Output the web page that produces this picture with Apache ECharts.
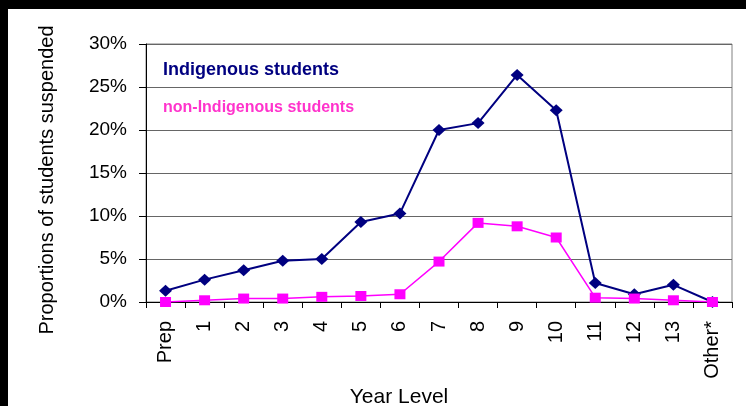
<!DOCTYPE html>
<html>
<head>
<meta charset="utf-8">
<script src="https://cdn.jsdelivr.net/npm/echarts@6/dist/echarts.min.js"></script>
<style>
  html, body { margin: 0; padding: 0; background: #fff; }
  #chart { width: 746px; height: 406px; }
</style>
</head>
<body>
<div id="chart"></div>
<script>
const categories = ['Prep', '1', '2', '3', '4', '5', '6', '7', '8', '9', '10', '11', '12', '13', 'Other*'];
const indigenous = [1.3, 2.6, 3.7, 4.8, 5.0, 9.3, 10.3, 20.0, 20.8, 26.4, 22.3, 2.2, 0.9, 2.0, 0.0];
const nonIndigenous = [0.0, 0.2, 0.4, 0.4, 0.6, 0.7, 0.9, 4.7, 9.2, 8.8, 7.5, 0.5, 0.4, 0.2, 0.0];
const yTicks = [0, 5, 10, 15, 20, 25, 30];

const FONT = '"Liberation Sans", Arial, sans-serif';
const chart = echarts.init(document.getElementById('chart'), null, { renderer: 'canvas' });

chart.setOption({
  backgroundColor: '#ffffff',
  animation: false,
  grid: {
    left: 146, right: 14, top: 44, bottom: 104,
    show: true, borderColor: '#808080', borderWidth: 1, backgroundColor: 'transparent'
  },
  xAxis: {
    type: 'category',
    data: categories,
    boundaryGap: true,
    axisLine: { lineStyle: { color: '#000', width: 1 } },
    axisTick: { show: true, length: 6, lineStyle: { color: '#000' } },
    axisLabel: { rotate: 90, margin: 19, fontSize: 20, color: '#000', fontFamily: FONT, interval: 0 },
    splitLine: { show: false }
  },
  yAxis: {
    type: 'value',
    min: yTicks[0], max: yTicks[yTicks.length - 1], interval: 5,
    axisLine: { show: true, lineStyle: { color: '#000', width: 1 } },
    axisTick: { show: true, length: 7, lineStyle: { color: '#000' } },
    axisLabel: { formatter: '{value}%', margin: 19, fontSize: 19, color: '#000', fontFamily: FONT },
    splitLine: { show: true, lineStyle: { color: '#666', width: 1 } }
  },
  series: [
    {
      name: 'Indigenous students',
      type: 'line',
      data: indigenous,
      symbol: 'diamond',
      symbolSize: [13, 12],
      itemStyle: { color: '#000080' },
      lineStyle: { color: '#000080', width: 2 },
      z: 3
    },
    {
      name: 'non-Indigenous students',
      type: 'line',
      data: nonIndigenous,
      symbol: 'rect',
      symbolSize: [11, 10],
      itemStyle: { color: '#FF00FF' },
      lineStyle: { color: '#FF00FF', width: 1.5 },
      z: 4
    }
  ],
  graphic: [
    { type: 'rect', left: 0, top: 0, shape: { width: 746, height: 9 }, style: { fill: '#000' }, z: 100 },
    { type: 'rect', left: 0, top: 0, shape: { width: 8, height: 406 }, style: { fill: '#000' }, z: 100 },
    { type: 'text', left: 163, top: 61, style: { text: 'Indigenous students', fill: '#000080', font: 'bold 18px ' + FONT }, z: 50 },
    { type: 'text', left: 163, top: 100, style: { text: 'non-Indigenous students', fill: '#FF33CC', font: 'bold 16px ' + FONT }, z: 50 },
    { type: 'text', x: 399, y: 397,
      style: { text: 'Year Level', fill: '#000', font: '21px ' + FONT, textAlign: 'center', textVerticalAlign: 'middle' }, z: 50 },
    { type: 'text', x: 47, y: 180, rotation: Math.PI / 2,
      style: { text: 'Proportions of students suspended', fill: '#000', font: '20px ' + FONT, textAlign: 'center', textVerticalAlign: 'middle' }, z: 50 }
  ]
});
</script>
</body>
</html>
